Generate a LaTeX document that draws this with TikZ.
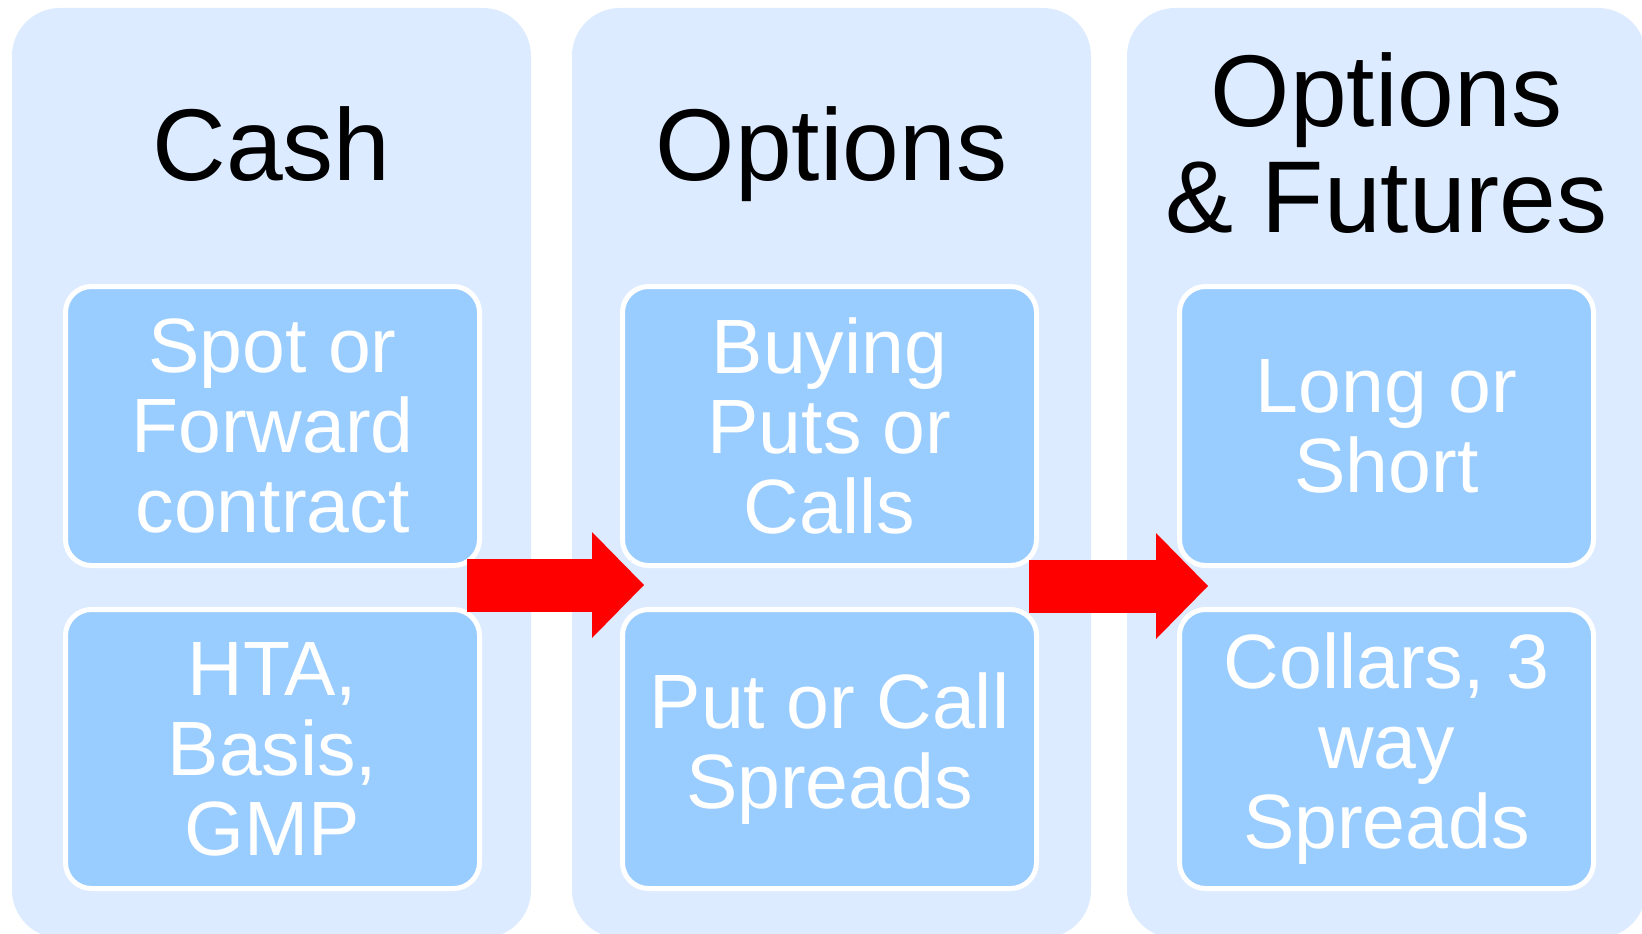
\documentclass[tikz,border=0pt]{standalone}
\usepackage{fontspec}
\setmainfont{Liberation Sans}
\usepackage{tikz}
\usetikzlibrary{
	calc,
	positioning,
	arrows.meta
}
\definecolor{colbg}{RGB}{220,235,255}
\definecolor{itembg}{RGB}{153,204,255}

\begin{document}
\begin{tikzpicture}[
	x=1pt, y=-1pt,
	column/.style={fill=colbg, rounded corners=48pt, inner sep=0pt, minimum width=519pt, minimum height=930pt},
	item/.style={fill=itembg, draw=white, line width=5pt, rounded corners=26pt, inner sep=0pt, minimum width=414pt, minimum height=279pt, text=white, align=center, font=\fontsize{77}{80}\selectfont},
	title/.style={align=center, font=\fontsize{102}{106}\selectfont},
	bigarrow/.style={red, line width=53pt, -{Triangle[length=52pt, width=106pt, line width=0pt]}}
]
	\useasboundingbox (0,0) rectangle (1642,934);
	% columns
	\node[column] (cashcol) at (271.5,473)  {};
	\node[column] (optcol)  at (831.5,473)  {};
	\node[column] (futcol)  at (1386.5,473) {};
	% titles
	\node[title, anchor=base] (cashtitle) at (271.5,180)  {Cash};
	\node[title, anchor=base] (opttitle)  at (831.5,180)  {Options};
	\node[title, anchor=base] (futtitle)  at (1386.5,232) {Options\\\& Futures};
	% items
	\node[item] (spot)      at (272.5,426)  {Spot or\\Forward\\contract};
	\node[item] (buying)    at (829.5,426)  {Buying\\Puts or\\Calls};
	\node[item] (longshort) at (1386.5,426) {Long or\\Short};
	\node[item, below=39pt of spot]      (hta)     {HTA,\\Basis,\\GMP};
	\node[item, below=39pt of buying]    (spreads) {Put or Call\\Spreads};
	\node[item, below=39pt of longshort] (collars) {Collars, 3\\way\\Spreads};
	% arrows
	\coordinate (arrowAfrom) at (467,585);
	\coordinate (arrowAto)   at (644,585);
	\coordinate (arrowBfrom) at (1029,586);
	\coordinate (arrowBto)   at (1208,586);
	\draw[bigarrow] (arrowAfrom) -- (arrowAto);
	\draw[bigarrow] (arrowBfrom) -- (arrowBto);
\end{tikzpicture}
\end{document}
